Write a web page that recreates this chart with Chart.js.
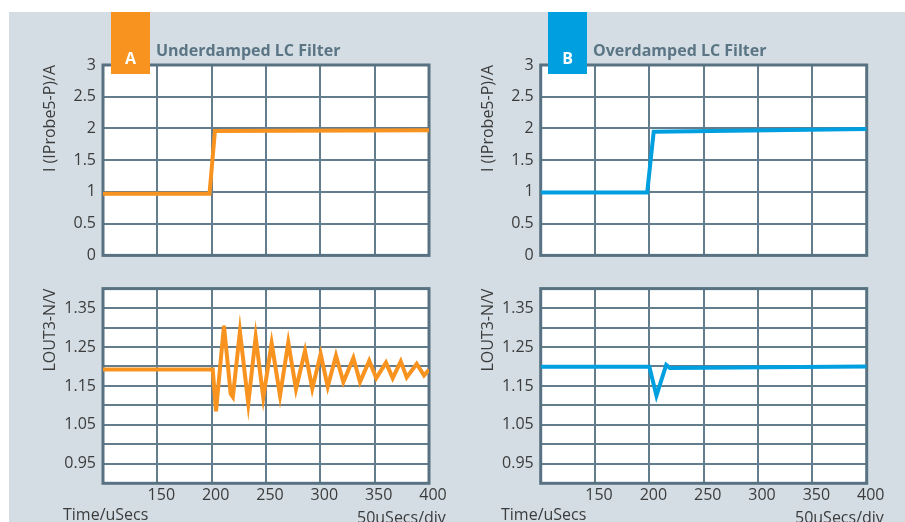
<!DOCTYPE html>
<html lang="en">
<head>
<meta charset="UTF-8">
<title>Underdamped / Overdamped LC Filter</title>
<script src="https://cdn.jsdelivr.net/npm/chart.js@4.4.1/dist/chart.umd.min.js"></script>
<style>
    html, body { margin: 0; padding: 0; background: #ffffff; overflow: hidden; }
    body { width: 905px; height: 522px; position: relative; font-family: 'Open Sans', sans-serif; }
    #panel { position: absolute; left: 9px; top: 12px; width: 896px; height: 510px; background: #d3dde3; }
    .plot { position: absolute; }
    .plot canvas { display: block; }
    .tag { position: absolute; top: 12px; width: 39px; height: 62px; }
    .tag span { position: absolute; left: 0; right: 0; top: 38px; text-align: center; color: #ffffff; font-weight: bold; font-size: 16px; line-height: 16px; }
    .heading { position: absolute; top: 42px; font-weight: bold; font-size: 16px; line-height: 16px; color: #5b7585; white-space: nowrap; }
    .note { position: absolute; font-size: 16px; line-height: 16px; color: #3c3c3c; white-space: nowrap; }
</style>
</head>
<body>
<div id="panel"></div>

<div class="plot" style="left:0; top:0;"><canvas id="current-a" width="450" height="272"></canvas></div>
<div class="plot" style="left:0; top:272px;"><canvas id="voltage-a" width="450" height="250"></canvas></div>
<div class="plot" style="left:450px; top:0;"><canvas id="current-b" width="455" height="272"></canvas></div>
<div class="plot" style="left:450px; top:272px;"><canvas id="voltage-b" width="455" height="250"></canvas></div>

<div class="tag" style="left:111px; background:#f7931e;"><span>A</span></div>
<div class="heading" style="left:156px;">Underdamped LC Filter</div>
<div class="tag" style="left:548px; background:#009fdf;"><span>B</span></div>
<div class="heading" style="left:593px;">Overdamped LC Filter</div>

<div class="note" style="left:63px; top:506px;">Time/uSecs</div>
<div class="note" style="left:357px; top:509px;">50uSecs/div</div>
<div class="note" style="left:501px; top:506px;">Time/uSecs</div>
<div class="note" style="left:795px; top:509px;">50uSecs/div</div>

<script>
// Graduations des axes
const timeTicks = [100, 150, 200, 250, 300, 350, 400];
const currentTicks = [0, 0.5, 1, 1.5, 2, 2.5, 3];
const voltageGrid = [0.9, 0.95, 1.0, 1.05, 1.1, 1.15, 1.2, 1.25, 1.3, 1.35, 1.4];
const voltageLabels = [0.95, 1.05, 1.15, 1.25, 1.35];

// Courant de sonde (A = sous-amorti, B = sur-amorti)
const timeCurrentA = [100, 198, 203, 400];
const currentA = [0.97, 0.97, 1.96, 1.97];
const timeCurrentB = [100, 198, 204, 400];
const currentB = [0.99, 0.99, 1.95, 1.99];

// Tension de sortie LOUT3-N
const timeVoltageA = [100, 201, 204, 211.3, 217.5, 219.5, 226, 233.7, 240.5, 247.5, 255.2, 262.9, 270.5, 277.6, 285.9, 292.6,
    300.3, 306.8, 314.4, 321.2, 330.4, 336.5, 345, 351.5, 360.4, 366.6, 374, 379.5, 388.7, 395.4, 400];
const voltageA = [1.192, 1.192, 1.085, 1.305, 1.13, 1.122, 1.29, 1.105, 1.276, 1.12, 1.26, 1.125, 1.262, 1.142, 1.24, 1.143,
    1.232, 1.148, 1.228, 1.16, 1.222, 1.16, 1.215, 1.17, 1.21, 1.17, 1.213, 1.172, 1.207, 1.177, 1.192];
const timeVoltageB = [100, 200, 206.5, 215.5, 219, 400];
const voltageB = [1.199, 1.199, 1.125, 1.204, 1.196, 1.2];

const orange = '#f7931e';
const blue = '#009fdf';
const gridColor = '#647d8c';
const frameColor = '#587282';
const textColor = '#3c3c3c';
const tickFont = { family: "'Open Sans', sans-serif", size: 16 };

// Fond blanc et cadre épais autour de la zone de tracé
const plotFrame = {
    id: 'plotFrame',
    beforeDraw(chart) {
        const { ctx, chartArea: a } = chart;
        ctx.save();
        ctx.fillStyle = '#ffffff';
        ctx.fillRect(a.left, a.top, a.right - a.left, a.bottom - a.top);
        ctx.restore();
    },
    beforeDatasetsDraw(chart) {
        const { ctx, chartArea: a } = chart;
        ctx.save();
        ctx.strokeStyle = frameColor;
        ctx.lineWidth = 3;
        ctx.strokeRect(a.left, a.top, a.right - a.left, a.bottom - a.top);
        ctx.restore();
    }
};

function toPoints(xs, ys) {
    return xs.map((t, i) => ({ x: t, y: ys[i] }));
}

// Fonction pour créer un des quatre graphiques
function createPanel(id, cfg) {
    return new Chart(document.getElementById(id), {
        type: 'line',
        data: {
            datasets: [{
                data: toPoints(cfg.times, cfg.values),
                borderColor: cfg.color,
                borderWidth: 4,
                pointRadius: 0,
                tension: 0,
                fill: false
            }]
        },
        options: {
            responsive: false,
            animation: false,
            layout: { padding: cfg.padding },
            plugins: {
                legend: { display: false },
                tooltip: { enabled: false }
            },
            scales: {
                x: {
                    type: 'linear',
                    min: 100,
                    max: 400,
                    afterBuildTicks: scale => { scale.ticks = timeTicks.map(v => ({ value: v })); },
                    afterFit: scale => { scale.height = cfg.xHeight; },
                    grid: { color: gridColor, lineWidth: 2, drawTicks: false },
                    border: { display: false },
                    ticks: {
                        display: cfg.showTime,
                        autoSkip: false,
                        maxRotation: 0,
                        padding: 3,
                        labelOffset: 4,
                        color: textColor,
                        font: tickFont,
                        callback: v => (v === 100 ? '' : String(v))
                    }
                },
                y: {
                    type: 'linear',
                    min: cfg.min,
                    max: cfg.max,
                    afterBuildTicks: scale => { scale.ticks = cfg.grid.map(v => ({ value: v })); },
                    afterFit: scale => { scale.width = cfg.yWidth; },
                    grid: { color: gridColor, lineWidth: 2, drawTicks: false },
                    border: { display: false },
                    title: {
                        display: true,
                        text: cfg.label,
                        align: 'end',
                        padding: { top: cfg.titlePad, bottom: 0 },
                        color: textColor,
                        font: tickFont
                    },
                    ticks: {
                        autoSkip: false,
                        padding: 7,
                        color: textColor,
                        font: tickFont,
                        callback: cfg.format
                    }
                }
            }
        },
        plugins: [plotFrame]
    });
}

const formatCurrent = v => String(+v.toFixed(2));
const formatVoltage = v => (voltageLabels.some(l => Math.abs(l - v) < 1e-6) ? v.toFixed(2) : '');

createPanel('current-a', {
    times: timeCurrentA, values: currentA, color: orange,
    min: 0, max: 3, grid: currentTicks, format: formatCurrent, label: 'I (IProbe5-P)/A',
    padding: { left: 0, top: 65, right: 21, bottom: 13.5 }, yWidth: 103, xHeight: 0, titlePad: 40.4, showTime: false
});
createPanel('voltage-a', {
    times: timeVoltageA, values: voltageA, color: orange,
    min: 0.9, max: 1.4, grid: voltageGrid, format: formatVoltage, label: 'LOUT3-N/V',
    padding: { left: 0, top: 16.3, right: 21, bottom: 8.7 }, yWidth: 103, xHeight: 30, titlePad: 40.4, showTime: true
});
createPanel('current-b', {
    times: timeCurrentB, values: currentB, color: blue,
    min: 0, max: 3, grid: currentTicks, format: formatCurrent, label: 'I (IProbe5-P)/A',
    padding: { left: 0, top: 65, right: 38.3, bottom: 13.5 }, yWidth: 90.7, xHeight: 0, titlePad: 28.4, showTime: false
});
createPanel('voltage-b', {
    times: timeVoltageB, values: voltageB, color: blue,
    min: 0.9, max: 1.4, grid: voltageGrid, format: formatVoltage, label: 'LOUT3-N/V',
    padding: { left: 0, top: 16.3, right: 38.3, bottom: 8.7 }, yWidth: 90.7, xHeight: 30, titlePad: 28.4, showTime: true
});
</script>
</body>
</html>
